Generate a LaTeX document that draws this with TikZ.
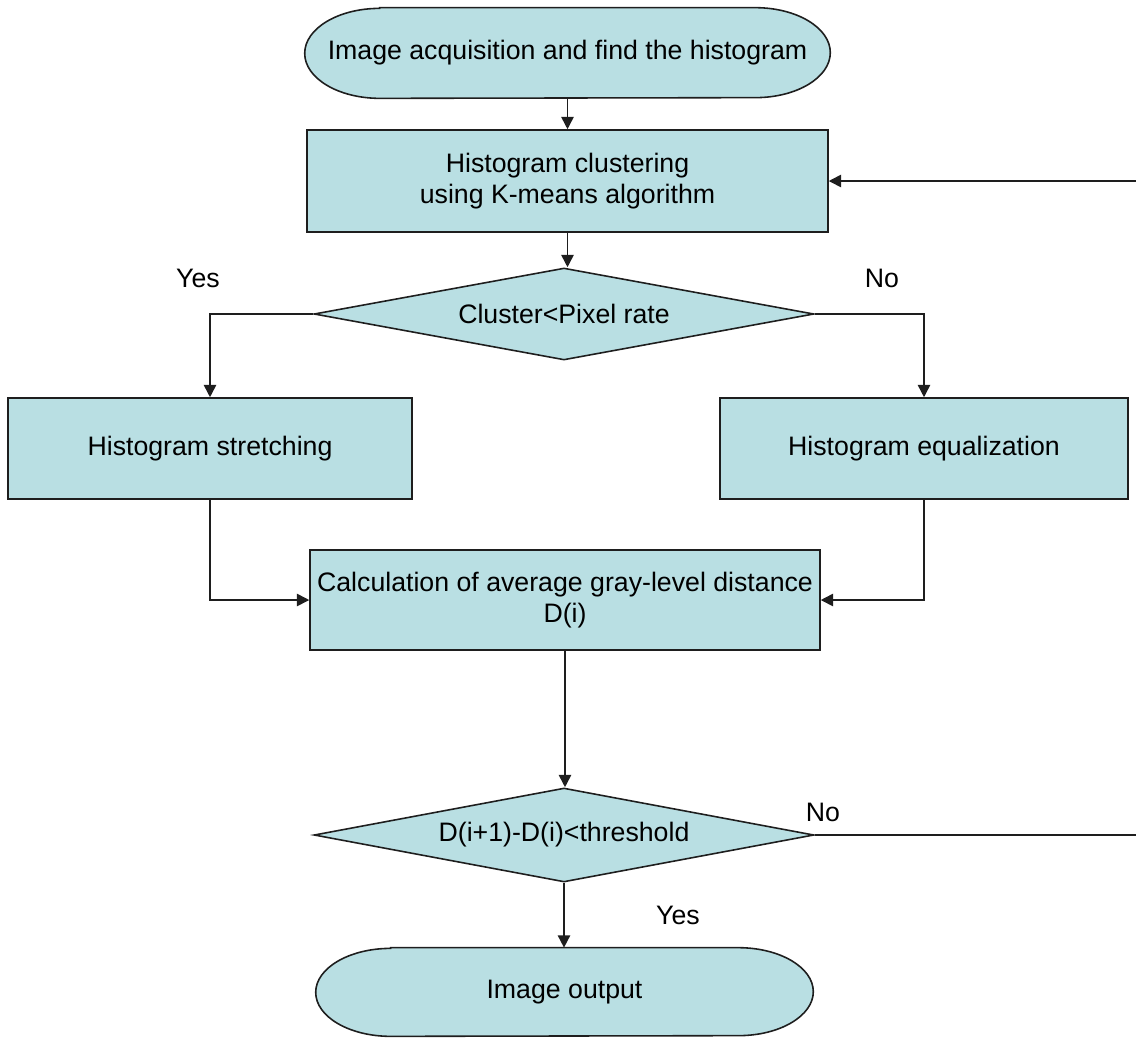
\documentclass[tikz,border=0pt]{standalone}
\usepackage{fontspec}
\setmainfont{Liberation Sans}
\usetikzlibrary{shapes.geometric,arrows.meta,calc}
\pgfdeclarelayer{background}
\pgfsetlayers{background,main}
\definecolor{boxfill}{RGB}{185,223,227}
\definecolor{edge}{RGB}{30,30,30}
\tikzset{
  base/.style={font=\fontsize{15.2}{17.5}\selectfont, align=center, inner sep=0pt},
  procbox/.style={base, draw=edge, fill=boxfill, line width=0.9pt},
  decision/.style={base, diamond, shape aspect=5.4, draw=edge, fill=boxfill, line width=0.9pt},
  termnode/.style={base},
  termshape/.style={draw=edge, fill=boxfill, line width=0.9pt},
  arr/.style={draw=edge, line width=0.9pt, -{Triangle[length=7pt,width=7pt]}},
  lbl/.style={font=\fontsize{15.2}{18}\selectfont, inner sep=0pt}
}
\begin{document}
\begin{tikzpicture}[x=0.02cm,y=-0.02cm]
\useasboundingbox (0,0) rectangle (1136,1042);
\clip (0,0) rectangle (1136,1042);
% nodes
\node[termnode, minimum width=10.5cm, minimum height=1.8cm] (t1) at (567.5,53) {Image acquisition and find the histogram};
\node[procbox, minimum width=10.42cm, minimum height=2.04cm] (b1) at (567.5,181) {Histogram clustering\\using K-means algorithm};
\node[decision, minimum width=10cm, minimum height=1.84cm] (d1) at (564,314) {Cluster<Pixel rate};
\node[procbox, minimum width=8.08cm, minimum height=2.02cm] (s1) at (210,448.5) {Histogram stretching};
\node[procbox, minimum width=8.16cm, minimum height=2.02cm] (e1) at (924,448.5) {Histogram equalization};
\node[procbox, minimum width=10.2cm, minimum height=2cm] (c1) at (565,600) {Calculation of average gray-level distance\\D(i)};
\node[decision, minimum width=10cm, minimum height=1.88cm] (d2) at (564,835) {D(i+1)-D(i)<threshold};
\node[termnode, minimum width=9.94cm, minimum height=1.76cm] (t2) at (564.5,992) {Image output};
% terminator shapes
\begin{pgfonlayer}{background}
\path[termshape] ([xshift=1.5cm]t1.north west) -- ([xshift=-1.5cm]t1.north east)
  arc[start angle=90,end angle=-90,x radius=1.5cm,y radius=0.9cm]
  -- ([xshift=1.5cm]t1.south west)
  arc[start angle=270,end angle=90,x radius=1.5cm,y radius=0.9cm] -- cycle;
\path[termshape] ([xshift=1.5cm]t2.north west) -- ([xshift=-1.5cm]t2.north east)
  arc[start angle=90,end angle=-90,x radius=1.5cm,y radius=0.88cm]
  -- ([xshift=1.5cm]t2.south west)
  arc[start angle=270,end angle=90,x radius=1.5cm,y radius=0.88cm] -- cycle;
\end{pgfonlayer}
% connectors
\draw[arr] (t1.south) -- (b1.north);
\draw[arr] (b1.south) -- (b1.south |- d1.north);
\draw[arr] (d1.west) -| (s1.north);
\draw[arr] (d1.east) -| (e1.north);
\draw[arr] (s1.south) |- (c1.west);
\draw[arr] (e1.south) |- (c1.east);
\draw[arr] (c1.south) -- (c1.south |- d2.north);
\draw[arr] (d2.south) -- (d2.south |- t2.north);
\coordinate (loop) at (1145,835);
\draw[arr] (d2.east) -- (loop) |- (b1.east);
% labels
\node[lbl] (y1) at (198,278) {Yes};
\node[lbl] (n1) at (882,278) {No};
\node[lbl] (n2) at (823,812) {No};
\node[lbl] (y2) at (678,915) {Yes};
\end{tikzpicture}
\end{document}
